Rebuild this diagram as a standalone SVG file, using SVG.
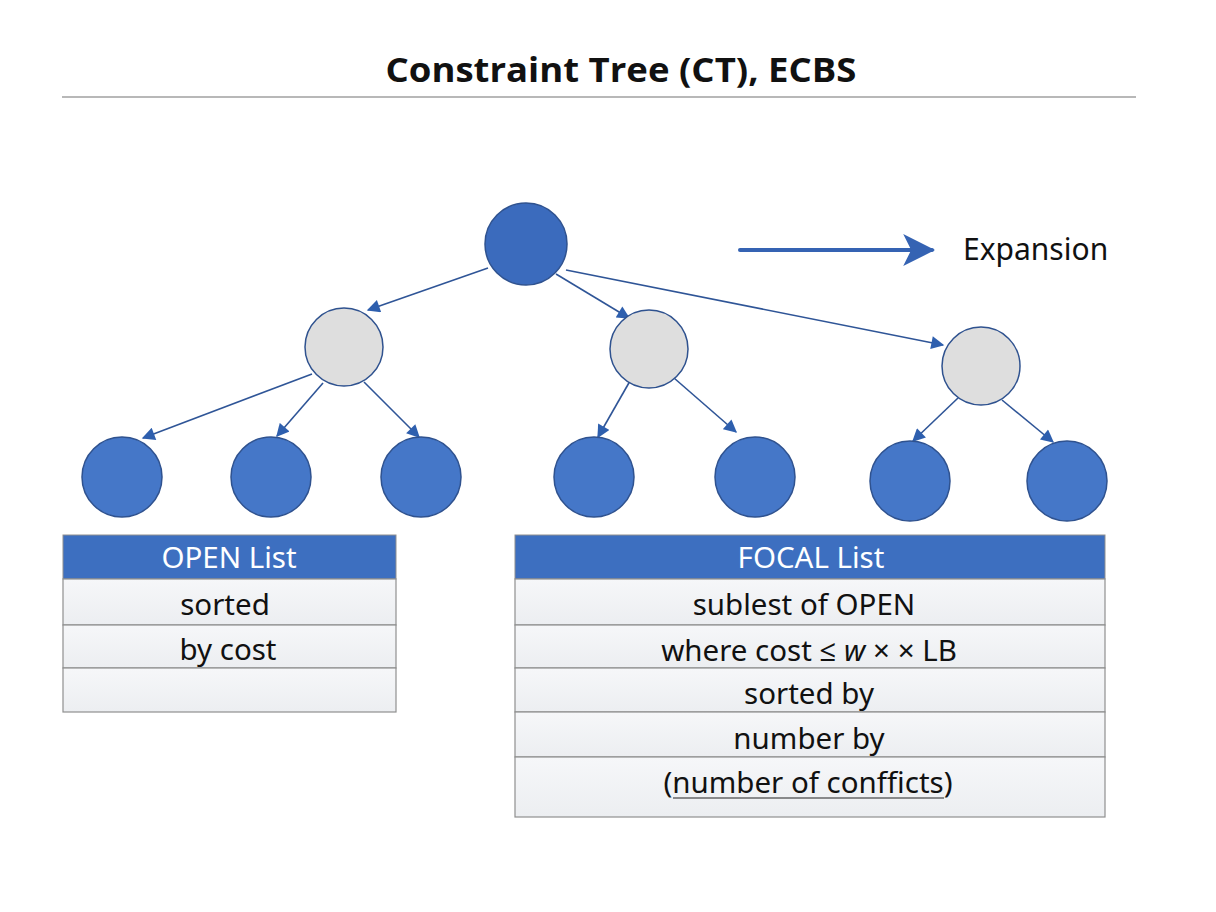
<svg xmlns="http://www.w3.org/2000/svg" width="1216" height="912" viewBox="0 0 1216 912">
<style>
.blue{fill:#4577c8;stroke:#2f528f;stroke-width:1.5}
.root{fill:#3b6bbd;stroke:#2f528f;stroke-width:1.5}
.grey{fill:#dedede;stroke:#2f528f;stroke-width:1.5}
.edge{stroke:#2f5597;stroke-width:1.6;fill:none;marker-end:url(#ah)}
.hdr{fill:#3d6fc0;stroke:#8f8f8f;stroke-width:1}
.row{fill:url(#rowg);stroke:#8f8f8f;stroke-width:1.2}
.ht{font-family:"Noto Sans","Open Sans",sans-serif;font-size:29.5px;fill:#ffffff;text-anchor:middle}
.rt{font-family:"Noto Sans","Open Sans",sans-serif;font-size:29.5px;fill:#111111;text-anchor:middle}
</style>
<defs>
<marker id="ah" viewBox="0 0 10 10" refX="9" refY="5" markerWidth="14" markerHeight="13" markerUnits="userSpaceOnUse" orient="auto">
<path d="M0,0 L10,5 L0,10 z" fill="#2e5fae"/>
</marker>
<marker id="ah2" viewBox="0 0 10 10" refX="9" refY="5" markerWidth="8" markerHeight="8" orient="auto">
<path d="M0,0 L10,5 L0,10 L2.5,5 z" fill="#3563b3"/>
</marker>
<linearGradient id="rowg" x1="0" y1="0" x2="0" y2="1">
<stop offset="0" stop-color="#f6f7f9"/>
<stop offset="1" stop-color="#eceef1"/>
</linearGradient>
</defs>
<rect width="1216" height="912" fill="#ffffff"/>
<g id="title">
<text x="621" y="82" font-family="'Open Sans','Noto Sans',sans-serif" font-weight="bold" font-size="34" text-anchor="middle" fill="#111111" textLength="471" lengthAdjust="spacingAndGlyphs">Constraint Tree (CT), ECBS</text>
<line x1="62" y1="97" x2="1136" y2="97" stroke="#a0a0a0" stroke-width="1.5"/>
</g>
<g id="legend">
<line x1="740" y1="250" x2="932" y2="250" stroke="#3563b3" stroke-width="4" stroke-linecap="round" marker-end="url(#ah2)"/>
<text x="963" y="260" font-family="'Noto Sans','Open Sans',sans-serif" font-size="30" fill="#111111">Expansion</text>
</g>
<g id="connectors">
<line class="edge" x1="488" y1="268" x2="368" y2="310"/>
<line class="edge" x1="556" y1="274" x2="629" y2="318"/>
<line class="edge" x1="566" y1="270" x2="943" y2="345"/>
<line class="edge" x1="312" y1="374" x2="143" y2="438"/>
<line class="edge" x1="323" y1="383" x2="277" y2="436"/>
<line class="edge" x1="364" y1="382" x2="419" y2="437"/>
<line class="edge" x1="630" y1="381" x2="598" y2="437"/>
<line class="edge" x1="674" y1="378" x2="736" y2="432"/>
<line class="edge" x1="958" y1="398" x2="913" y2="441"/>
<line class="edge" x1="1002" y1="400" x2="1053" y2="442"/>
</g>
<g id="n-root"><circle class="root" cx="526" cy="244" r="41"/></g>
<g id="n-a"><circle class="grey" cx="344" cy="347" r="39"/></g>
<g id="n-b"><circle class="grey" cx="649" cy="349" r="39"/></g>
<g id="n-c"><circle class="grey" cx="981" cy="366" r="39"/></g>
<g id="n-l1"><circle class="blue" cx="122" cy="477" r="40"/></g>
<g id="n-l2"><circle class="blue" cx="271" cy="477" r="40"/></g>
<g id="n-l3"><circle class="blue" cx="421" cy="477" r="40"/></g>
<g id="n-l4"><circle class="blue" cx="594" cy="477" r="40"/></g>
<g id="n-l5"><circle class="blue" cx="755" cy="477" r="40"/></g>
<g id="n-l6"><circle class="blue" cx="910" cy="481" r="40"/></g>
<g id="n-l7"><circle class="blue" cx="1067" cy="481" r="40"/></g>
<g id="open-list">
<rect class="hdr" x="63" y="535" width="333" height="44"/>
<rect class="row" x="63" y="579" width="333" height="46"/>
<rect class="row" x="63" y="625" width="333" height="43"/>
<rect class="row" x="63" y="668" width="333" height="44"/>
<text class="ht" x="229" y="568">OPEN List</text>
<text class="rt" x="225" y="615">sorted</text>
<text class="rt" x="228" y="660">by cost</text>
</g>
<g id="focal-list">
<rect class="hdr" x="515" y="535" width="590" height="44"/>
<rect class="row" x="515" y="579" width="590" height="46"/>
<rect class="row" x="515" y="625" width="590" height="43"/>
<rect class="row" x="515" y="668" width="590" height="44"/>
<rect class="row" x="515" y="712" width="590" height="45"/>
<rect class="row" x="515" y="757" width="590" height="60"/>
<text class="ht" x="811" y="568">FOCAL List</text>
<text class="rt" x="804" y="615">sublest of OPEN</text>
<text class="rt" x="809" y="661">where cost ≤ <tspan font-style="italic">w</tspan> × × LB</text>
<text class="rt" x="809" y="704">sorted by</text>
<text class="rt" x="809" y="749">number by</text>
<text class="rt" x="808" y="793">(number of confficts)</text>
<line x1="673" y1="798" x2="944" y2="798" stroke="#222222" stroke-width="1.2"/>
</g>
</svg>
